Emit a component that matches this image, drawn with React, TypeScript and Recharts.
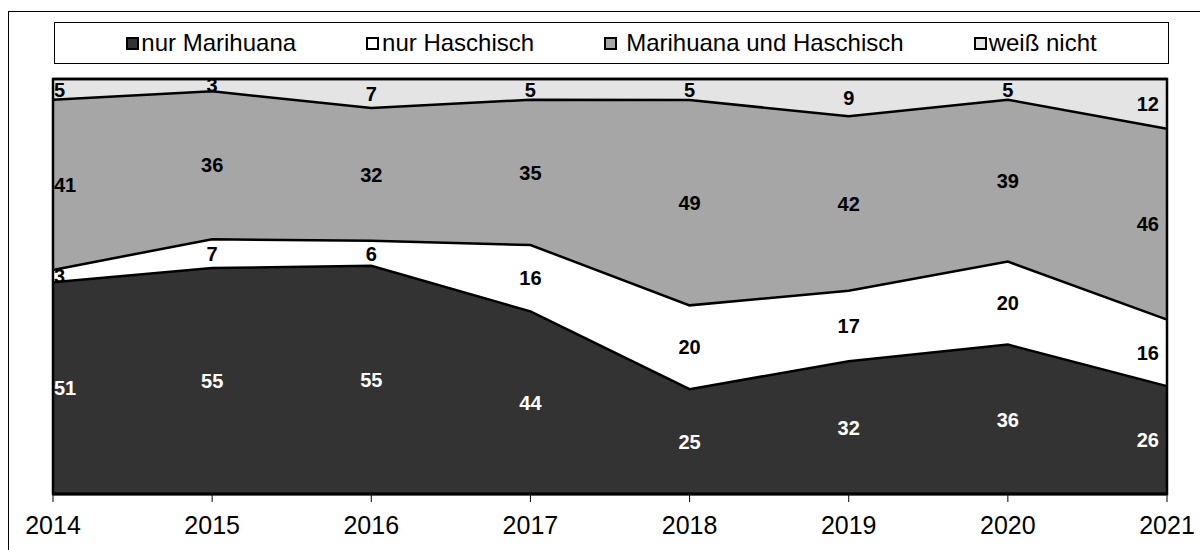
import React from 'react'
import { AreaChart, Area, XAxis, YAxis, LabelList, ReferenceArea } from 'recharts'

const years = ['2014', '2015', '2016', '2017', '2018', '2019', '2020', '2021']
const nurMarihuana = [51, 55, 55, 44, 25, 32, 36, 26]
const nurHaschisch = [3, 7, 6, 16, 20, 17, 20, 16]
const beides = [41, 36, 32, 35, 49, 42, 39, 46]
const weissNicht = [5, 3, 7, 5, 5, 9, 5, 12]

const FONT = '"Liberation Sans", Arial, sans-serif'
const W = 1200
const H = 550
const MARGIN = { top: 79, right: 33, left: 53, bottom: 16 }
const X_AXIS_H = 40
const PLOT_H = H - MARGIN.top - MARGIN.bottom - X_AXIS_H

const SERIES = [
  { key: 'nurMarihuana', name: 'nur Marihuana', values: nurMarihuana, fill: '#333333', text: '#ffffff', gap: 2 },
  { key: 'nurHaschisch', name: 'nur Haschisch', values: nurHaschisch, fill: '#ffffff', text: '#000000', gap: 3 },
  { key: 'beides', name: 'Marihuana und Haschisch', values: beides, fill: '#a6a6a6', text: '#000000', gap: 9 },
  { key: 'weissNicht', name: 'weiß nicht', values: weissNicht, fill: '#e4e4e4', text: '#000000', gap: 2 },
]

const data = years.map((year, i) => ({
  year,
  nurMarihuana: nurMarihuana[i],
  nurHaschisch: nurHaschisch[i],
  beides: beides[i],
  weissNicht: weissNicht[i],
}))

const rowTotal = (i: number) => nurMarihuana[i] + nurHaschisch[i] + beides[i] + weissNicht[i]

// label sits in the middle of its band; first/last columns are pulled inside the plot
const makeLabel = (values: number[], color: string) => (props: any) => {
  const index = props.index ?? 0
  const vx = props.viewBox?.x ?? props.x
  const vy = props.viewBox?.y ?? props.y
  if (vx == null || vy == null) return null
  const share = values[index] / rowTotal(index)
  const cy = vy + (share * PLOT_H) / 2
  let anchor: 'start' | 'middle' | 'end' = 'middle'
  let x = vx
  if (index === 0) {
    anchor = 'start'
    x = vx + 1
  } else if (index === values.length - 1) {
    anchor = 'end'
    x = vx - 8
  }
  return (
    <text
      x={x}
      y={cy}
      dy="0.36em"
      textAnchor={anchor}
      fill={color}
      fontSize={20}
      fontWeight="bold"
      fontFamily={FONT}
    >
      {values[index]}
    </text>
  )
}

const ChartLegend = () => (
  <div
    style={{
      position: 'absolute',
      left: 54,
      top: 22,
      width: 1115,
      height: 42,
      boxSizing: 'border-box',
      border: '1.5px solid #000',
      display: 'flex',
      alignItems: 'center',
      justifyContent: 'center',
      gap: 70,
      fontFamily: FONT,
      fontSize: 24,
      color: '#000',
      background: '#fff',
    }}
  >
    {SERIES.map((s) => (
      <div key={s.key} style={{ display: 'flex', alignItems: 'center' }}>
        <span
          style={{
            display: 'inline-block',
            width: 13,
            height: 13,
            boxSizing: 'border-box',
            border: '2px solid #000',
            background: s.fill,
            marginRight: s.gap,
          }}
        />
        <span>{s.name}</span>
      </div>
    ))}
  </div>
)

export default function App() {
  return (
    <div style={{ position: 'absolute', left: 0, top: 0, width: W, height: H, background: '#fff', overflow: 'hidden' }}>
      <div
        style={{
          position: 'absolute',
          left: 8,
          top: 11,
          width: W,
          height: H,
          borderLeft: '1.5px solid #000',
          borderTop: '1.5px solid #000',
        }}
      />
      <div style={{ position: 'absolute', left: 0, top: 0 }}>
        <AreaChart width={W} height={H} data={data} stackOffset="expand" margin={MARGIN}>
          <XAxis
            dataKey="year"
            interval={0}
            height={X_AXIS_H}
            tickSize={8}
            tickMargin={14}
            tickLine={{ stroke: '#000', strokeWidth: 1 }}
            axisLine={{ stroke: '#000', strokeWidth: 3 }}
            tick={{ fill: '#000', fontSize: 25, fontFamily: FONT }}
          />
          <YAxis hide domain={[0, 1]} />
          {/* fills first */}
          {SERIES.map((s) => (
            <Area
              key={s.key}
              type="linear"
              dataKey={s.key}
              name={s.name}
              stackId="fill"
              fill={s.fill}
              fillOpacity={1}
              stroke="none"
              dot={false}
              activeDot={false}
              isAnimationActive={false}
            />
          ))}
          {/* outlines on top so the next band does not hide half the line */}
          {SERIES.map((s) => (
            <Area
              key={s.key + '-line'}
              type="linear"
              dataKey={s.key}
              stackId="line"
              fill="none"
              fillOpacity={0}
              stroke="#000"
              strokeWidth={2.5}
              dot={false}
              activeDot={false}
              legendType="none"
              tooltipType="none"
              isAnimationActive={false}
            >
              <LabelList dataKey={s.key} content={makeLabel(s.values, s.text)} />
            </Area>
          ))}
          <ReferenceArea x1="2014" x2="2021" y1={0} y2={1} fill="none" stroke="#000" strokeWidth={2.5} ifOverflow="visible" />
        </AreaChart>
      </div>
      <ChartLegend />
    </div>
  )
}
